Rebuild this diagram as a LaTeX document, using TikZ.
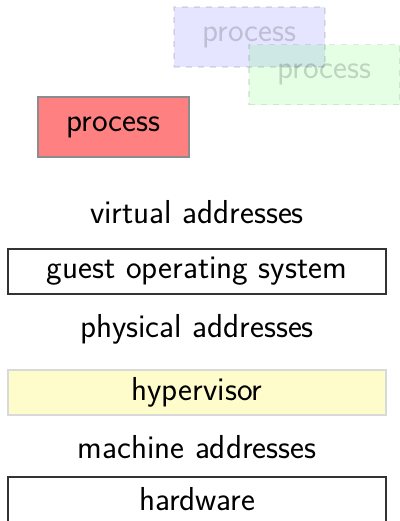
\documentclass[tikz,border=0pt]{standalone}
\usepackage{tikz}
\begin{document}
\begin{tikzpicture}[x=0.5pt,y=-0.5pt,
  every node/.style={font=\sffamily\fontsize{16.6}{19}\selectfont},
  layer/.style={draw=black!80, line width=0.6pt, minimum width=189pt, minimum height=22.5pt, inner sep=0pt},
  proc/.style={minimum width=75.5pt, minimum height=30pt, inner sep=0pt, line width=0.6pt},
  ghost/.style={proc, dashed, draw=black, draw opacity=0.1, fill opacity=0.1, text opacity=0.17},
  label/.style={inner sep=0pt}
]
\useasboundingbox (0,0) rectangle (400,521);
% processes of other guests, faded
\node[ghost, fill=blue] (procB) at (249.5,37) {process};
\node[ghost, fill=green] (procC) at (324.5,74.5) {process};
% the running process
\node[proc, draw=black!45, fill=red!50] (procA) at (113.5,127) {process};
% address spaces and layers
\node[label] (virt) at (197,212) {virtual addresses};
\node[layer, fill=white] (guest) at (197,271.5) {guest operating system};
\node[label] (phys) at (197,329) {physical addresses};
\node[layer, draw=black!15, fill=yellow!20] (hyp) at (197,392.5) {hypervisor};
\node[label] (mach) at (197,447) {machine addresses};
\node[layer, fill=white] (hw) at (197,499.5) {hardware};
\end{tikzpicture}
\end{document}
